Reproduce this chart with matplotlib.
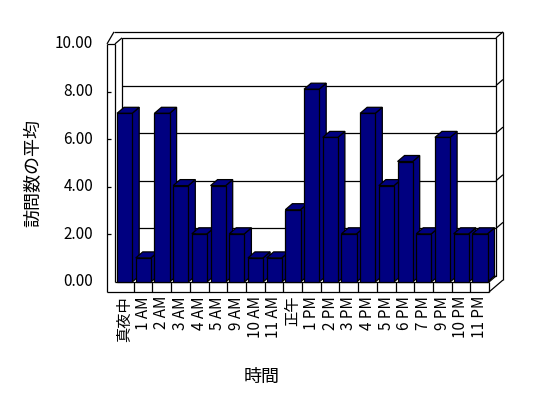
import matplotlib
matplotlib.use("Agg")
import matplotlib.pyplot as plt
from matplotlib.patches import Polygon, Rectangle

plt.rcParams['font.family'] = ['Noto Sans CJK JP', 'DejaVu Sans']

# data
categories = ['真夜中', '1 AM', '2 AM', '3 AM', '4 AM', '5 AM', '9 AM', '10 AM', '11 AM', '正午',
              '1 PM', '2 PM', '3 PM', '4 PM', '5 PM', '6 PM', '7 PM', '9 PM', '10 PM', '11 PM']
values = [7, 1, 7, 4, 2, 4, 2, 1, 1, 3, 8, 6, 2, 7, 4, 5, 2, 6, 2, 2]
y_ticks = [0, 2, 4, 6, 8, 10]
y_tick_labels = ['0.00', '2.00', '4.00', '6.00', '8.00', '10.00']
x_title = '時間'
y_title = '訪問数の平均'

# layout (in data units: 1 x unit = one category, 1 y unit = 1 visit)
W, H = 548, 398
PX = 18.7          # pixels per category
PY = 24.1          # pixels per value unit
X0, Y0 = 115, 282  # pixel position of category 0 / value 0
DX, DY = 7 / PX, 6 / PY      # depth offset
WALL = 8 / PX                # left wall thickness
FLOOR = 10 / PY              # floor thickness
AXIS_SCALE = 0.988
BAR_L, BAR_W = 0.11, 0.81
NAVY = '#000080'
LW = 0.9

fig = plt.figure(figsize=(W / 100, H / 100), dpi=100)
ax = fig.add_axes([0, 0, 1, 1])
ax.set_xlim(-X0 / PX, (W - X0) / PX)
ax.set_ylim(-(H - Y0) / PY, Y0 / PY)
ax.axis('off')

n = len(categories)
top = y_ticks[-1] * AXIS_SCALE


def line(xs, ys, z=1):
    ax.plot(xs, ys, color='black', lw=LW, solid_capstyle='butt', zorder=z)


# back wall
ax.add_patch(Rectangle((DX, DY), n, top, facecolor='white', edgecolor='black', lw=LW, zorder=0.2))
for v in y_ticks[1:-1]:
    yv = v * AXIS_SCALE
    line([DX, n + DX], [yv + DY, yv + DY], 0.5)
    line([n + DX, n + 2 * DX], [yv + DY, yv + 2 * DY], 0.5)
    line([-WALL, -WALL + 4 / PX], [yv, yv], 0.5)
# back wall thickness (outer edges)
line([-WALL + DX, n + 2 * DX], [top + 2 * DY, top + 2 * DY])
line([n + 2 * DX, n + 2 * DX], [-FLOOR + 2 * DY, top + 2 * DY])
line([n + DX, n + 2 * DX], [top + DY, top + 2 * DY])
line([n, n + 2 * DX], [-FLOOR, -FLOOR + 2 * DY])
line([n, n + DX], [0, DY])
# left wall
line([-WALL, -WALL], [-FLOOR, top])
line([0, 0], [0, top])
line([-WALL, 0], [top, top])
line([0, DX], [top, top + DY])
line([-WALL, -WALL + DX], [top, top + 2 * DY])
# floor
line([-WALL, n], [-FLOOR, -FLOOR])
line([0, n], [0, 0])
line([n, n], [-FLOOR, 0])
for i in range(1, n):
    line([i, i], [-FLOOR, 0])

# bars
for i, v in enumerate(values):
    x = i + BAR_L
    side = Polygon([(x + BAR_W, 0), (x + BAR_W + DX, DY), (x + BAR_W + DX, v + DY), (x + BAR_W, v)],
                   closed=True, facecolor=NAVY, edgecolor='black', lw=LW, zorder=3)
    cap = Polygon([(x, v), (x + DX, v + DY), (x + BAR_W + DX, v + DY), (x + BAR_W, v)],
                  closed=True, facecolor=NAVY, edgecolor='black', lw=LW, zorder=3)
    front = Rectangle((x, 0), BAR_W, v, facecolor=NAVY, edgecolor='black', lw=LW, zorder=3)
    ax.add_patch(side)
    ax.add_patch(cap)
    ax.add_patch(front)

# tick labels
for v, lab in zip(y_ticks, y_tick_labels):
    ax.text(-22 / PX, v * AXIS_SCALE, lab, ha='right', va='center', fontsize=11)
for i, lab in enumerate(categories):
    ax.text(i + 0.5, -14 / PY, lab, rotation=90, ha='center', va='top', fontsize=11)

ax.text((33 - X0) / PX, (Y0 - 173) / PY, y_title, rotation=90, ha='center', va='center', fontsize=13)
ax.text((262 - X0) / PX, (Y0 - 377) / PY, x_title, ha='center', va='center', fontsize=13)

fig.savefig('out.png', dpi=100)
